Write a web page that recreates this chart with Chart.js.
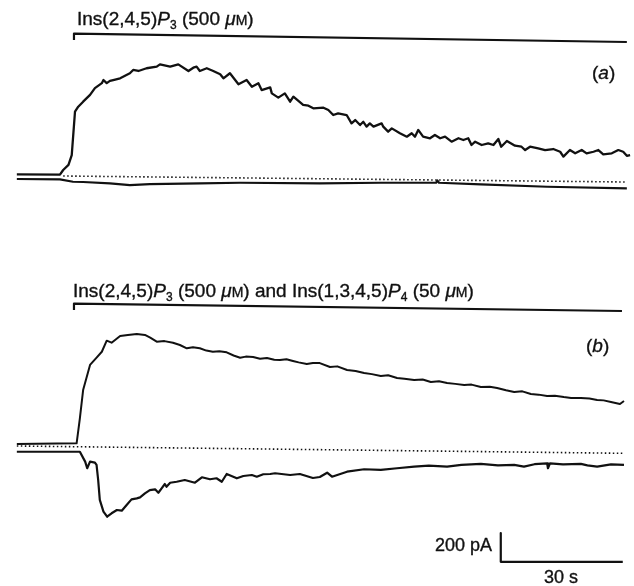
<!DOCTYPE html>
<html>
<head>
<meta charset="utf-8">
<script src="https://cdn.jsdelivr.net/npm/chart.js@4"></script>
<style>
  body { margin: 0; background: #fff; }
  #wrap { position: relative; width: 634px; height: 586px; }
  .lbl { position: absolute; white-space: nowrap; line-height: 1; color: #111;
         font-family: "Liberation Sans", Arial, sans-serif; font-size: 19px;
         -webkit-text-stroke: 0.35px #111; }
  .lbl i { font-style: italic; }
  .lbl sub { font-size: 12px; vertical-align: -4px; line-height: 0; }
  .sc { font-size: 14px; }
</style>
</head>
<body>
<div id="wrap">
  <canvas id="traceChart"></canvas>
  <div class="lbl" style="left:77px; top:9px;">Ins(2,4,5)<i>P</i><sub>3</sub> (500 <i>μ</i><span class="sc">M</span>)</div>
  <div class="lbl" style="left:592px; top:63px;">(<i>a</i>)</div>
  <div class="lbl" style="left:73px; top:281px;">Ins(2,4,5)<i>P</i><sub>3</sub> (500 <i>μ</i><span class="sc">M</span>) and Ins(1,3,4,5)<i>P</i><sub>4</sub> (50 <i>μ</i><span class="sc">M</span>)</div>
  <div class="lbl" style="left:586px; top:336px;">(<i>b</i>)</div>
  <div class="lbl" style="right:142px; top:536px; font-size:18px;">200 pA</div>
  <div class="lbl" style="left:544px; top:568px; font-size:18px;">30 s</div>
</div>
<script>
// time in s (0 = start of application), current in pA

// (a) Ins(2,4,5)P3 alone
const aTime = [-14.3, -3.7, -2.9, -1.6, -0.8, 0, 0.8, 2.0, 3.7, 4.9,
    6.6, 7.0, 7.8, 8.6, 9.4, 11.1, 13.5, 14.3, 15.6, 17.6,
    20.1, 20.9, 23.4, 25.4, 27.9, 29.1, 29.9, 30.7, 32.4, 34.0,
    35.7, 36.5, 38.1, 40.2, 42.2, 43.5, 45.1, 45.9, 48.0, 48.4,
    50.0, 51.6, 52.9, 53.7, 56.1, 57.4, 58.6, 61.1, 62.3, 63.5,
    64.7, 66.8, 68.0, 68.9, 70.1, 70.9, 71.7, 72.5, 73.4, 75.4,
    75.8, 77.0, 77.9, 79.9, 81.6, 82.8, 83.6, 84.4, 85.6, 87.3,
    88.5, 89.8, 91.0, 92.6, 94.3, 95.5, 96.7, 97.5, 98.4, 100.0,
    101.6, 102.9, 104.1, 104.8, 106.2, 108.2, 109.8, 110.7, 111.9, 113.9,
    115.6, 117.6, 119.3, 120.1, 121.7, 123.0, 124.6, 125.8, 127.5, 128.7,
    129.9, 132.0, 133.6, 134.8, 135.7, 136.5];
const aCurrent = [12, 10, 42, 77, 146, 448, 483, 518, 565, 612,
    647, 669, 647, 663, 669, 681, 716, 739, 732, 751,
    762, 778, 762, 778, 732, 755, 762, 732, 751, 732,
    709, 681, 716, 639, 669, 622, 646, 599, 618, 576,
    546, 576, 518, 553, 495, 490, 472, 476, 460, 425,
    437, 425, 367, 390, 355, 378, 344, 367, 344, 367,
    344, 309, 332, 298, 274, 298, 274, 321, 274, 263,
    286, 263, 274, 239, 263, 251, 263, 216, 239, 216,
    228, 216, 258, 204, 244, 211, 204, 181, 204, 193,
    181, 188, 169, 135, 181, 158, 181, 158, 169, 181,
    151, 158, 181, 169, 141, 146];
const aLowTime = [-14.3, -3.7, -0.5, 2.0, 8.6, 13.5, 18.4, 30.7, 40.6, 60.2, 75.2, 88.8, 89.1, 89.5, 99.8, 116.1, 135.7];
const aLowCurrent = [-21, -23, -40, -42, -51, -63, -56, -51, -47, -51, -47, -47, -31, -47, -58, -75, -86];
const aZeroTime = [-2.9, 135.7];
const aZeroCurrent = [0, -42];
const aBarTime = [-0.25, -0.25, 135.7];
const aBarCurrent = [948, 993, 934];

// (b) Ins(2,4,5)P3 + Ins(1,3,4,5)P4
const bTime = [-14.3, 0.4, 1.2, 2.0, 3.7, 5.2, 6.6, 7.8, 9.0, 11.1,
    13.0, 15.2, 17.2, 18.5, 20.1, 22.0, 24.1, 25.8, 27.5, 29.0,
    30.7, 32.3, 33.9, 35.5, 37.3, 39.0, 40.6, 42, 43.8, 45.5,
    47.2, 49, 50.4, 52, 53.6, 55, 57.0, 58.5, 60.2, 62.7,
    64.5, 66.9, 69, 71.1, 73, 75.2, 77, 79.2, 81, 83.4,
    85.5, 87.5, 89.5, 91.5, 93.5, 95.7, 97.5, 99.8, 102, 103.8,
    106, 108, 110, 112.1, 114, 116.1, 118, 120.2, 122, 124.4,
    126.5, 128.4, 130, 131.8, 134.0, 135.0];
const bCurrent = [21, 26, 200, 397, 572, 620, 664, 741, 727, 774,
    781, 788, 781, 762, 734, 738, 727, 711, 688, 695,
    688, 672, 664, 668, 660, 638, 622, 630, 627, 615,
    620, 608, 606, 612, 600, 590, 578, 585, 585, 558,
    562, 537, 530, 516, 508, 495, 500, 481, 475, 467,
    470, 453, 458, 446, 440, 432, 435, 418, 420, 411,
    395, 383, 388, 369, 365, 355, 358, 348, 342, 341,
    338, 328, 325, 314, 300, 321];
const bLowTime = [-14.3, 1.2, 2.5, 3.0, 3.7, 4.9, 5.3, 5.7, 6.1, 7.0,
    7.9, 9.0, 10.3, 11.5, 12.7, 13.9, 15.2, 16.0, 17.2, 18.4,
    19.7, 20.5, 21.3, 22.1, 22.5, 23.4, 25.0, 27.0, 29.5, 31.2,
    33.2, 34.8, 36.1, 37.3, 39.8, 41.4, 43.5, 44.7, 46.3, 48.0,
    49.2, 52.9, 55.3, 58.5, 60.2, 62.0, 63.2, 66.9, 71.1, 75.2,
    79.2, 83.4, 87.0, 91.5, 95.0, 99.8, 104.0, 108.0, 110.4, 113.0,
    116.1, 116.3, 116.8, 120.0, 124.4, 126.0, 128.4, 131.8, 135.0];
const bLowCurrent = [-33, -33, -102, -148, -102, -109, -125, -230, -369, -450,
    -486, -462, -439, -444, -404, -365, -358, -351, -323, -300,
    -295, -319, -288, -258, -277, -249, -242, -230, -249, -211,
    -225, -218, -242, -188, -218, -202, -195, -207, -190, -188,
    -183, -195, -188, -216, -209, -179, -207, -172, -155, -160,
    -148, -137, -130, -137, -125, -118, -128, -125, -137, -120,
    -114, -148, -114, -121, -118, -128, -137, -121, -125];
const bZeroTime = [-14.3, 134.8];
const bZeroCurrent = [7, -44];
const bBarTime = [-0.25, -0.25, 134.5];
const bBarCurrent = [955, 1000, 948];

// calibration: 200 pA, 30 s
const scaleTime = [104.7, 104.7, 134.7];
const scaleCurrent = [-600, -800, -800];

function pts(xs, ys) {
    return xs.map((x, i) => ({ x: x, y: ys[i] }));
}

function trace(xs, ys, axis, width, dash) {
    return {
        data: pts(xs, ys),
        yAxisID: axis,
        borderColor: '#111',
        borderWidth: width,
        borderDash: dash || [],
        borderJoinStyle: 'round',
        pointRadius: 0,
        tension: 0,
        fill: false,
        clip: false
    };
}

const whiteBg = {
    id: 'whiteBg',
    beforeDraw(chart) {
        const ctx = chart.ctx;
        ctx.save();
        ctx.fillStyle = '#fff';
        ctx.fillRect(0, 0, chart.width, chart.height);
        ctx.restore();
    }
};

// 4.0667 px per s, 6.97 pA per px
new Chart(document.getElementById('traceChart'), {
    type: 'line',
    data: {
        datasets: [
            trace(aBarTime, aBarCurrent, 'ya', 2.2),
            trace(aTime, aCurrent, 'ya', 2.3),
            trace(aLowTime, aLowCurrent, 'ya', 2.2),
            trace(aZeroTime, aZeroCurrent, 'ya', 1.6, [1.5, 2.5]),
            trace(bBarTime, bBarCurrent, 'yb', 2.2),
            trace(bTime, bCurrent, 'yb', 2),
            trace(bLowTime, bLowCurrent, 'yb', 2.2),
            trace(bZeroTime, bZeroCurrent, 'yb', 1.6, [1.5, 2.5]),
            trace(scaleTime, scaleCurrent, 'yb', 2.2)
        ]
    },
    options: {
        responsive: true,
        maintainAspectRatio: false,
        animation: false,
        layout: { padding: 0 },
        plugins: { legend: { display: false }, tooltip: { enabled: false } },
        scales: {
            x: { type: 'linear', min: -18.44, max: 137.46, display: false },
            ya: { type: 'linear', min: -2857.7, max: 1226.7, display: false },
            yb: { type: 'linear', min: -968.8, max: 3115.6, display: false }
        }
    },
    plugins: [whiteBg]
});
</script>
</body>
</html>
